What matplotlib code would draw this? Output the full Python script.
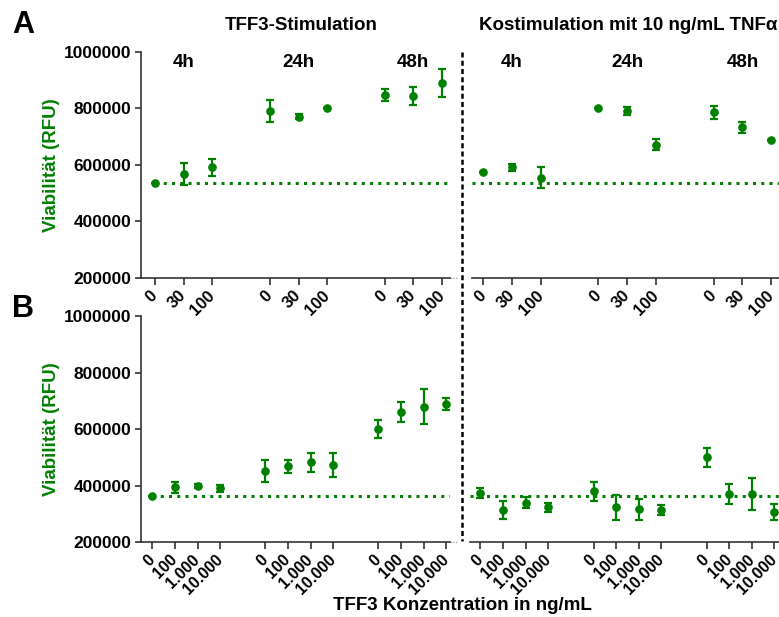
import matplotlib
matplotlib.use("Agg")
import matplotlib.pyplot as plt
from matplotlib.lines import Line2D
from matplotlib.transforms import blended_transform_factory
import numpy as np

plt.rcParams["font.family"] = ["Liberation Sans", "DejaVu Sans"]
plt.rcParams["font.weight"] = "bold"

GREEN = "#008000"
SPINE = "#333333"

times = ["4h", "24h", "48h"]

# Panel A: TFF3 30/100 ng/mL
conc_a = ["0", "30", "100"]
tff3_a_mean = [[535000, 568000, 591000],
               [791000, 771000, 800000],
               [847000, 843000, 890000]]
tff3_a_err = [[0, 38000, 30000],
              [40000, 10000, 0],
              [22000, 32000, 50000]]
tnf_a_mean = [[574000, 591000, 555000],
              [801000, 791000, 672000],
              [786000, 733000, 687000]]
tnf_a_err = [[0, 12000, 38000],
             [0, 15000, 18000],
             [24000, 19000, 0]]

# Panel B: TFF3 100 - 10.000 ng/mL
conc_b = ["0", "100", "1.000", "10.000"]
tff3_b_mean = [[364000, 394000, 399000, 390000],
               [452000, 468000, 483000, 473000],
               [601000, 660000, 680000, 689000]]
tff3_b_err = [[0, 20000, 8000, 12000],
              [39000, 24000, 34000, 42000],
              [32000, 35000, 62000, 22000]]
tnf_b_mean = [[375000, 313000, 339000, 323000],
              [380000, 323000, 316000, 313000],
              [500000, 370000, 370000, 307000]]
tnf_b_err = [[18000, 31000, 20000, 17000],
             [34000, 45000, 38000, 18000],
             [34000, 34000, 57000, 28000]]

yticks = [200000, 400000, 600000, 800000, 1000000]

W, H = 779, 617
fig = plt.figure(figsize=(W / 100, H / 100), dpi=100)


def px_axes(x0, x1, ytop, ybot):
    return fig.add_axes([x0 / W, 1 - ybot / H, (x1 - x0) / W, (ybot - ytop) / H])


def positions(n_groups, n_conc):
    return [[g * (n_conc + 1) + i for i in range(n_conc)] for g in range(n_groups)]


def draw_panel(ax, means, errs, concs, xlim, baseline, left_axis, group_labels, tick_fs):
    pos = positions(len(means), len(concs))
    for p, m, e in zip(pos, means, errs):
        ax.errorbar(p, m, yerr=e, fmt="o", color=GREEN, ms=5.2, elinewidth=1.6,
                    capsize=2.6, capthick=1.6, zorder=3)
    ax.set_xlim(*xlim)
    ax.set_ylim(200000, 1000000)
    ax.hlines(baseline, 0 if left_axis else xlim[0], xlim[1], colors=GREEN,
              linestyles=(0, (1, 1.7)), linewidth=2.2, zorder=2)
    flat_pos = [x for p in pos for x in p]
    ax.set_xticks(flat_pos)
    ax.set_xticklabels(concs * len(means), fontsize=tick_fs, fontweight="bold",
                       rotation=45, ha="right", va="center", rotation_mode="anchor")
    ax.tick_params(axis="x", length=5, width=1.2, color=SPINE, pad=6)
    for s in ("top", "right"):
        ax.spines[s].set_visible(False)
    ax.spines["bottom"].set_color(SPINE)
    ax.spines["bottom"].set_linewidth(1.2)
    # broken-axis tail at the right end
    ax.plot([1.0, 1.025], [0, 0], transform=ax.transAxes, clip_on=False,
            color="0.65", lw=1.0, ls=(0, (1, 1)))
    if left_axis:
        ax.spines["left"].set_color(SPINE)
        ax.spines["left"].set_linewidth(1.2)
        ax.set_yticks(yticks)
        ax.set_yticklabels([str(v) for v in yticks], fontsize=12.5, fontweight="bold")
        ax.tick_params(axis="y", length=4.5, width=1.2, color=SPINE, pad=2.5)
        ax.set_ylabel("Viabilität (RFU)", color=GREEN, fontsize=13.5, fontweight="bold")
        ax.yaxis.set_label_coords(-0.262, 0.5)
    else:
        ax.spines["left"].set_visible(False)
        ax.set_yticks([])
    if group_labels:
        tr = blended_transform_factory(ax.transData, ax.transAxes)
        for p, t in zip(pos, times):
            ax.text(np.mean(p), 0.953, t, transform=tr, ha="center", va="center",
                    fontsize=13.5, fontweight="bold")


ax_a1 = px_axes(141, 450, 52, 277.7)
ax_a2 = px_axes(472, 779, 52, 277.7)
ax_b1 = px_axes(141, 450, 316.3, 542)
ax_b2 = px_axes(470, 779, 316.3, 542)

draw_panel(ax_a1, tff3_a_mean, tff3_a_err, conc_a, (-0.49, 10.28),
           tff3_a_mean[0][0], True, True, 12)
draw_panel(ax_a2, tnf_a_mean, tnf_a_err, conc_a, (-0.39, 10.27),
           tff3_a_mean[0][0], False, True, 12)
draw_panel(ax_b1, tff3_b_mean, tff3_b_err, conc_b, (-0.5, 13.17),
           tff3_b_mean[0][0], True, False, 11.5)
draw_panel(ax_b2, tnf_b_mean, tnf_b_err, conc_b, (-0.46, 13.2),
           tff3_b_mean[0][0], False, False, 11.5)

# separator between the two stimulation conditions
fig.add_artist(Line2D([461.7 / W, 461.7 / W], [1 - 52 / H, 1 - 541 / H],
                      color="black", lw=1.8, ls=(0, (2, 1.3))))

fig.text(23 / W, 1 - 25 / H, "A", fontsize=22, fontweight="bold", ha="center", va="center")
fig.text(23 / W, 1 - 309 / H, "B", fontsize=22, fontweight="bold", ha="center", va="center")
fig.text(300.8 / W, 1 - 25.7 / H, "TFF3-Stimulation", fontsize=13.5,
         fontweight="bold", ha="center", va="center")
fig.text(479 / W, 1 - 25.7 / H, "Kostimulation mit 10 ng/mL TNFα", fontsize=13.5,
         fontweight="bold", ha="left", va="center")
fig.text(462 / W, 1 - 606 / H, "TFF3 Konzentration in ng/mL", fontsize=13.5,
         fontweight="bold", ha="center", va="center")

fig.savefig("out.png", dpi=100)
